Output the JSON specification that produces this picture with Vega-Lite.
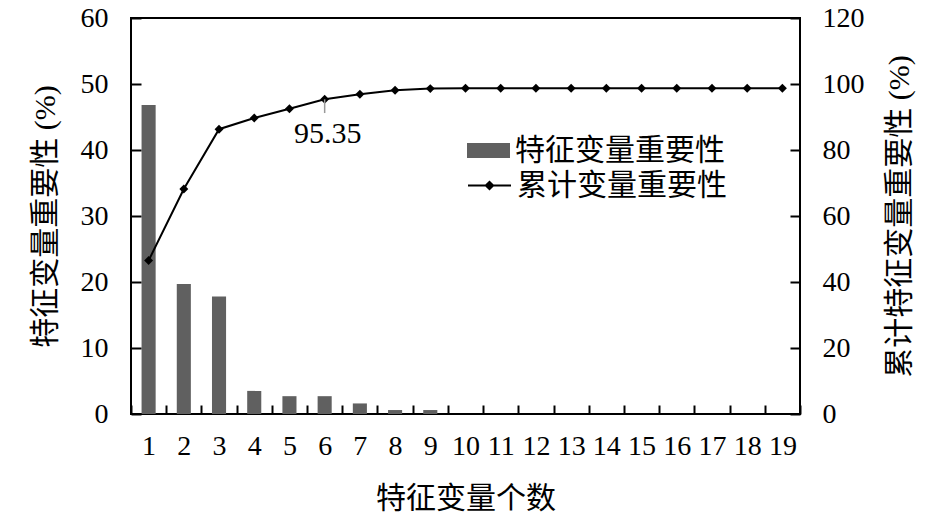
{
  "$schema": "https://vega.github.io/schema/vega-lite/v6.json",
  "width": 669,
  "height": 396,
  "autosize": {"type": "none"},
  "padding": {"left": 131, "top": 18, "right": 145, "bottom": 100},
  "config": {
    "view": {"stroke": "black", "strokeWidth": 2},
    "font": "Liberation Serif, Noto Sans CJK SC",
    "axis": {
      "labelColor": "black", "titleColor": "black",
      "labelFont": "Liberation Serif, Noto Sans CJK SC",
      "titleFont": "Liberation Serif, Noto Sans CJK SC",
      "labelFontSize": 28, "titleFontSize": 30, "titleFontWeight": "normal",
      "grid": false
    },
    "legend": {
      "labelFont": "Liberation Serif, Noto Sans CJK SC",
      "labelFontSize": 30, "labelColor": "black", "padding": 0, "labelLimit": 500
    }
  },
  "data": {
    "values": [
      {"n": 1, "imp": 46.8, "cum": 46.5},
      {"n": 2, "imp": 19.7, "cum": 68.2},
      {"n": 3, "imp": 17.8, "cum": 86.3},
      {"n": 4, "imp": 3.5, "cum": 89.7},
      {"n": 5, "imp": 2.7, "cum": 92.5},
      {"n": 6, "imp": 2.7, "cum": 95.35},
      {"n": 7, "imp": 1.6, "cum": 96.9},
      {"n": 8, "imp": 0.6, "cum": 98.1},
      {"n": 9, "imp": 0.6, "cum": 98.6},
      {"n": 10, "imp": 0, "cum": 98.7},
      {"n": 11, "imp": 0, "cum": 98.7},
      {"n": 12, "imp": 0, "cum": 98.7},
      {"n": 13, "imp": 0, "cum": 98.7},
      {"n": 14, "imp": 0, "cum": 98.7},
      {"n": 15, "imp": 0, "cum": 98.7},
      {"n": 16, "imp": 0, "cum": 98.7},
      {"n": 17, "imp": 0, "cum": 98.7},
      {"n": 18, "imp": 0, "cum": 98.7},
      {"n": 19, "imp": 0, "cum": 98.7}
    ]
  },
  "encoding": {
    "x": {
      "field": "n", "type": "ordinal",
      "scale": {"paddingInner": 0, "paddingOuter": 0},
      "axis": {
        "title": "特征变量个数", "labelAngle": 0, "tickBand": "extent", "ticks": true,
        "domain": true, "domainOpacity": 0, "tickColor": "black", "tickWidth": 2, "tickOpacity": 1, "zindex": 5,
        "offset": -9, "tickSize": 9, "labelPadding": 18, "titlePadding": 23
      }
    }
  },
  "layer": [
    {
      "mark": {"type": "bar", "width": {"band": 0.4}},
      "encoding": {
        "y": {
          "field": "imp", "type": "quantitative",
          "scale": {"domain": [0, 60]},
          "axis": {
            "title": "特征变量重要性 (%)", "values": [0, 10, 20, 30, 40, 50, 60], "ticks": true,
            "domain": true, "domainOpacity": 0, "tickColor": "black", "tickWidth": 2, "tickOpacity": 1, "zindex": 5,
            "offset": -10, "tickSize": 10, "labelPadding": 23, "titlePadding": 20
          }
        },
        "color": {
          "datum": "特征变量重要性", "type": "nominal",
          "scale": {"range": ["#606060"]},
          "legend": {
            "title": null, "orient": "none", "legendX": 336, "legendY": 111,
            "symbolType": "M-1,-0.35H1V0.35H-1Z", "symbolSize": 1849,
            "symbolStrokeWidth": 0, "labelOffset": 5
          }
        }
      }
    },
    {
      "encoding": {
        "y": {
          "field": "cum", "type": "quantitative",
          "scale": {"domain": [0, 120]},
          "axis": {
            "orient": "right", "title": "累计特征变量重要性 (%)",
            "values": [0, 20, 40, 60, 80, 100, 120], "ticks": true,
            "domain": true, "domainOpacity": 0, "tickColor": "black", "tickWidth": 2, "tickOpacity": 1, "zindex": 5,
            "offset": -10, "tickSize": 10, "labelPadding": 22, "titlePadding": 50, "titleAngle": 270
          }
        }
      },
      "layer": [
        {"mark": {"type": "line", "color": "black", "strokeWidth": 2}},
        {
          "mark": {"type": "point", "shape": "diamond", "filled": true, "size": 80, "opacity": 1},
          "encoding": {
            "color": {
              "datum": "累计变量重要性", "type": "nominal",
              "scale": {"range": ["black"]},
              "legend": {
                "title": null, "orient": "none", "legendX": 336, "legendY": 145,
                "symbolType": "M-1,0H1M-0.17,0L0,-0.17L0.17,0L0,0.17Z", "symbolSize": 1849,
                "symbolStrokeColor": "black", "symbolStrokeWidth": 2, "labelOffset": 5
              }
            }
          }
        },
        {
          "data": {"values": [{"n": 6, "cum": 95.35, "cum2": 91.2}]},
          "mark": {"type": "rule", "color": "#999999", "strokeWidth": 1.5},
          "encoding": {"y2": {"field": "cum2"}}
        },
        {
          "data": {"values": [{"n": 6, "cum": 95.35, "label": "95.35"}]},
          "mark": {"type": "text", "font": "Liberation Serif", "fontSize": 30, "dy": 44, "dx": 3, "baseline": "alphabetic", "align": "center", "color": "black"},
          "encoding": {"text": {"field": "label"}}
        }
      ]
    }
  ],
  "resolve": {"scale": {"y": "independent", "color": "independent"}, "axis": {"y": "independent"}}
}
